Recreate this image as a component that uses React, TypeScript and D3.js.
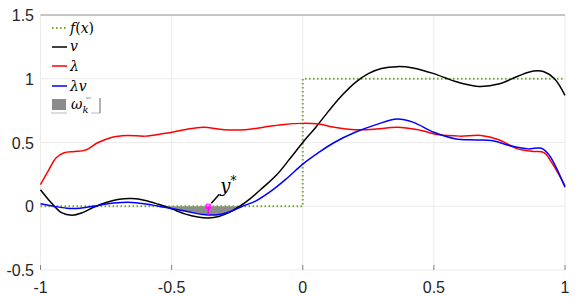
import React from "react";
import * as d3 from "d3";

const xTicks = [-1, -0.5, 0, 0.5, 1];
const yTicks = [-0.5, 0, 0.5, 1, 1.5];
const xTickLabels = ["-1", "-0.5", "0", "0.5", "1"];
const yTickLabels = ["-0.5", "0", "0.5", "1", "1.5"];

const fX = [-1, 0, 0, 1];
const fY = [0, 0, 1, 1];

const vX = [-1, -0.96, -0.92, -0.88, -0.84, -0.8, -0.75, -0.7, -0.65, -0.6, -0.55, -0.5, -0.45, -0.4, -0.36, -0.32, -0.28, -0.24, -0.2, -0.15, -0.1, -0.05, 0, 0.05, 0.1, 0.15, 0.2, 0.25, 0.3, 0.36, 0.42, 0.5, 0.58, 0.67, 0.75, 0.82, 0.88, 0.92, 0.96, 1];
const vY = [0.13, 0.03, -0.05, -0.07, -0.05, -0.01, 0.03, 0.055, 0.06, 0.045, 0.015, -0.02, -0.06, -0.085, -0.092, -0.08, -0.048, 0.0, 0.06, 0.15, 0.245, 0.37, 0.5, 0.62, 0.75, 0.87, 0.97, 1.04, 1.08, 1.095, 1.085, 1.04, 0.98, 0.94, 0.96, 1.02, 1.06, 1.055, 1.0, 0.87];

const lamX = [-1, -0.97, -0.94, -0.91, -0.87, -0.83, -0.78, -0.73, -0.67, -0.6, -0.53, -0.45, -0.38, -0.3, -0.22, -0.15, -0.08, 0, 0.06, 0.12, 0.2, 0.28, 0.36, 0.44, 0.52, 0.6, 0.68, 0.75, 0.82, 0.88, 0.92, 0.95, 1];
const lamY = [0.17, 0.28, 0.38, 0.42, 0.43, 0.44, 0.5, 0.54, 0.555, 0.55, 0.57, 0.6, 0.62, 0.6, 0.6, 0.62, 0.64, 0.65, 0.645, 0.62, 0.6, 0.605, 0.62, 0.6, 0.56, 0.55, 0.555, 0.52, 0.45, 0.43, 0.42, 0.34, 0.16];

const lvX = [-1, -0.95, -0.9, -0.85, -0.8, -0.72, -0.65, -0.58, -0.55, -0.5, -0.44, -0.38, -0.33, -0.28, -0.23, -0.18, -0.12, -0.06, 0, 0.06, 0.12, 0.2, 0.28, 0.36, 0.42, 0.5, 0.58, 0.66, 0.72, 0.8, 0.86, 0.91, 0.94, 1];
const lvY = [0.02, 0.0, -0.015, -0.015, 0.0, 0.025, 0.03, 0.012, 0.0, -0.018, -0.042, -0.065, -0.068, -0.045, 0.0, 0.04, 0.12, 0.22, 0.33, 0.42, 0.5, 0.58, 0.64, 0.685, 0.66, 0.58, 0.53, 0.52, 0.515, 0.47, 0.45, 0.455, 0.4, 0.15];

const fillRange = [-0.55, -0.23];
const yStarX = -0.36;

const W = 581, H = 297;
const L = 40.5, R = 565, T = 15, B = 270;

export default function App() {
  const x = d3.scaleLinear().domain([-1, 1]).range([L, R]);
  const y = d3.scaleLinear().domain([-0.5, 1.5]).range([B, T]);
  const curve = d3.curveCatmullRom.alpha(0.5);
  const line = d3.line<[number, number]>().x(d => x(d[0])).y(d => y(d[1])).curve(curve);
  const pts = (xs: number[], ys: number[]) => xs.map((v, i) => [v, ys[i]] as [number, number]);

  const fillPts = pts(lvX, lvY).filter(p => p[0] >= fillRange[0] && p[0] <= fillRange[1]).map(p => [p[0], Math.min(p[1], 0)] as [number, number]);
  const area = d3.area<[number, number]>().x(d => x(d[0])).y0(() => y(0)).y1(d => y(d[1])).curve(curve);

  const yStarVal = d3.scaleLinear().domain(lvX).range(lvY)(yStarX);
  const fLine = d3.line<[number, number]>().x(d => x(d[0])).y(d => y(d[1]));

  const tickFont = "'Liberation Sans', Arial, Helvetica, sans-serif";
  const mathFont = "'DejaVu Serif', 'Liberation Serif', serif";
  const legY = [28, 47, 66, 86, 105];

  return (
    <svg width={W} height={H} style={{ position: "absolute", left: 0, top: 0, background: "#fff" }}>
      {xTicks.map((t, i) => (
        <line key={"gx" + i} x1={x(t)} x2={x(t)} y1={T} y2={B} stroke="#ebebeb" strokeWidth={1} />
      ))}
      {yTicks.slice(0, 4).map((t, i) => (
        <line key={"gy" + i} x1={L} x2={R} y1={y(t)} y2={y(t)} stroke="#ebebeb" strokeWidth={1} />
      ))}
      <line x1={L} x2={R} y1={T} y2={T} stroke="#8c8c8c" strokeWidth={1} />
      {xTicks.map((t, i) => (
        <line key={"tk" + i} x1={x(t)} x2={x(t)} y1={B - 5} y2={B} stroke="#555" strokeWidth={0.7} />
      ))}
      {xTicks.map((t, i) => (
        <text key={"xl" + i} x={x(t)} y={293} textAnchor="middle" fontFamily={tickFont} fontSize={16} fill="#262626">{xTickLabels[i]}</text>
      ))}
      {yTicks.map((t, i) => (
        <text key={"yl" + i} x={34} y={y(t) + 6} textAnchor="end" fontFamily={tickFont} fontSize={16} fill="#262626">{yTickLabels[i]}</text>
      ))}

      <path d={area(fillPts) || ""} fill="#8c8c8c" stroke="none" />

      <path d={fLine(pts(fX, fY)) || ""} fill="none" stroke="#77AC30" strokeWidth={2} strokeDasharray="1.6,2.4" />
      <path d={line(pts(vX, vY)) || ""} fill="none" stroke="#000" strokeWidth={1.5} />
      <path d={line(pts(lamX, lamY)) || ""} fill="none" stroke="#ff0000" strokeWidth={1.5} />
      <path d={line(pts(lvX, lvY)) || ""} fill="none" stroke="#0000ff" strokeWidth={1.5} />

      <line x1={x(yStarX)} x2={x(yStarX)} y1={y(0)} y2={y(yStarVal)} stroke="#ff00ff" strokeWidth={1.5} />
      <rect x={x(yStarX) - 2} y={y(0) - 2} width={4} height={4} fill="none" stroke="#ff00ff" strokeWidth={1} />
      <line x1={x(yStarX) + 3} x2={x(yStarX) + 11} y1={y(0) - 3} y2={y(0) - 12} stroke="#000" strokeWidth={1.5} />
      <text x={x(yStarX) + 12} y={y(0) - 14} fontFamily={mathFont} fontStyle="italic" fontSize={18} fill="#000">
        y<tspan dy={-7} fontSize={12} fontStyle="normal">*</tspan>
      </text>

      <line x1={52} x2={67} y1={legY[0]} y2={legY[0]} stroke="#77AC30" strokeWidth={2} strokeDasharray="1.6,2.4" />
      <text x={70} y={legY[0] + 5} fontFamily={mathFont} fontStyle="italic" fontSize={14} fill="#000">f<tspan fontStyle="normal">(</tspan>x<tspan fontStyle="normal">)</tspan></text>
      <line x1={52} x2={67} y1={legY[1]} y2={legY[1]} stroke="#000" strokeWidth={1.5} />
      <text x={70} y={legY[1] + 4} fontFamily={mathFont} fontStyle="italic" fontSize={14} fill="#000">v</text>
      <line x1={52} x2={67} y1={legY[2]} y2={legY[2]} stroke="#ff0000" strokeWidth={1.5} />
      <text x={70} y={legY[2] + 5} fontFamily={mathFont} fontStyle="italic" fontSize={14} fill="#000">λ</text>
      <line x1={52} x2={67} y1={legY[3]} y2={legY[3]} stroke="#0000ff" strokeWidth={1.5} />
      <text x={70} y={legY[3] + 5} fontFamily={mathFont} fontStyle="italic" fontSize={14} fill="#000">λv</text>
      <rect x={52} y={legY[4] - 6} width={14} height={11} fill="#8c8c8c" />
      <line x1={51} x2={67} y1={legY[4] + 8} y2={legY[4] + 8} stroke="#bbb" strokeWidth={1} />
      <text x={71} y={legY[4] + 4} fontFamily={mathFont} fontStyle="italic" fontSize={14} fill="#000">ω<tspan dy={4} fontSize={10}>k</tspan></text>
      <line x1={86} x2={91} y1={legY[4] - 7} y2={legY[4] - 7} stroke="#999" strokeWidth={1} />
      <line x1={91} x2={100} y1={legY[4] + 8} y2={legY[4] + 8} stroke="#bbb" strokeWidth={1} />
      <line x1={100} x2={100} y1={legY[4] - 7} y2={legY[4] + 8} stroke="#666" strokeWidth={1} />
    </svg>
  );
}
